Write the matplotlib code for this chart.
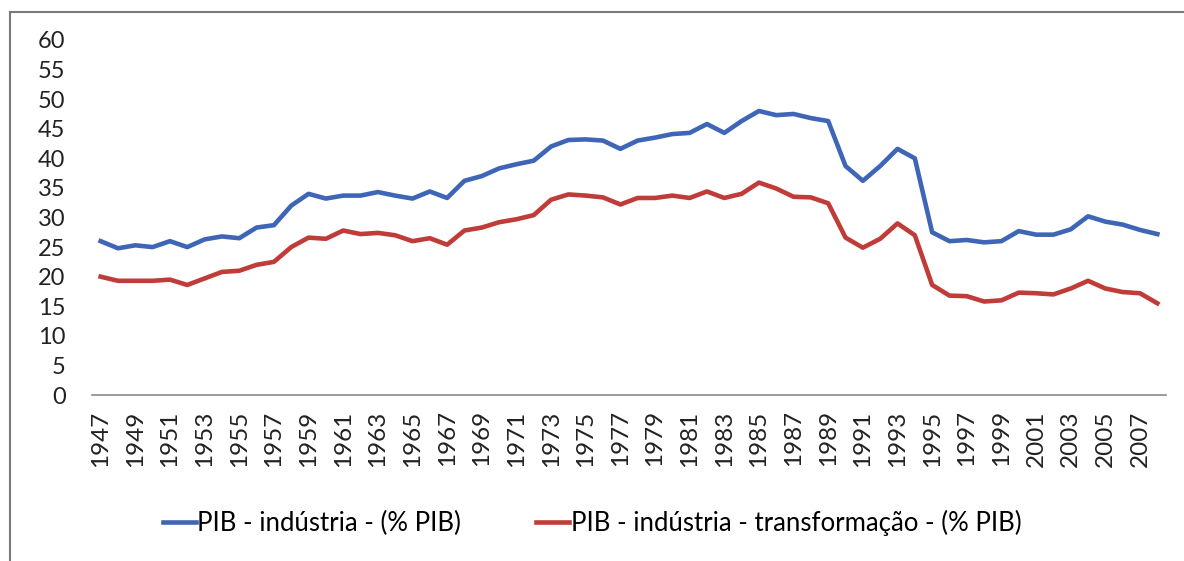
import numpy as np
import matplotlib
matplotlib.use("Agg")
import matplotlib.pyplot as plt
from matplotlib.patches import Rectangle

plt.rcParams['font.family'] = ['Lato', 'DejaVu Sans']

years = list(range(1947, 2009))

# PIB - industria (% PIB)
industria = [26.0, 24.8, 25.3, 25.0, 26.0, 25.0, 26.3, 26.8, 26.5, 28.3,
             28.7, 32.0, 34.0, 33.2, 33.7, 33.7, 34.3, 33.7, 33.2, 34.4,
             33.3, 36.2, 37.0, 38.3, 39.0, 39.6, 42.0, 43.1, 43.2, 43.0,
             41.6, 43.0, 43.5, 44.1, 44.3, 45.8, 44.3, 46.3, 48.0, 47.3,
             47.5, 46.8, 46.3, 38.7, 36.2, 38.7, 41.6, 40.0, 27.5, 26.0,
             26.2, 25.8, 26.0, 27.7, 27.1, 27.1, 28.0, 30.2, 29.3, 28.8,
             27.9, 27.2]

# PIB - industria - transformacao (% PIB)
transformacao = [20.0, 19.3, 19.3, 19.3, 19.5, 18.6, 19.7, 20.8, 21.0, 22.0,
                 22.5, 25.0, 26.6, 26.4, 27.8, 27.2, 27.4, 27.0, 26.0, 26.5,
                 25.4, 27.8, 28.3, 29.2, 29.7, 30.4, 33.0, 33.9, 33.7, 33.4,
                 32.2, 33.3, 33.3, 33.7, 33.3, 34.4, 33.3, 34.0, 35.9, 34.9,
                 33.5, 33.4, 32.4, 26.6, 24.9, 26.4, 29.0, 27.0, 18.6, 16.8,
                 16.7, 15.8, 16.0, 17.3, 17.2, 17.0, 18.0, 19.3, 18.0, 17.4,
                 17.2, 15.5]

W, H = 1184, 561
fig = plt.figure(figsize=(W / 100, H / 100), dpi=100)
ax = fig.add_axes([92 / W, 1 - 395 / H, (1166 - 92) / W, (395 - 40) / H])

x = np.arange(len(years))
ax.plot(x, industria, color='#3f66b6', lw=3.3, solid_joinstyle='round',
        label='PIB - indústria - (% PIB)')
ax.plot(x, transformacao, color='#c03c38', lw=3.3, solid_joinstyle='round',
        label='PIB - indústria - transformação - (% PIB)')

ax.set_xlim(-0.5, len(years) - 0.5)
ax.set_ylim(0, 60)
ax.set_yticks(range(0, 61, 5))
ax.set_xticks(x[::2])
ax.set_xticklabels([str(y) for y in years[::2]], rotation=90)

for s in ['top', 'right', 'left']:
    ax.spines[s].set_visible(False)
ax.spines['bottom'].set_color('#8a8a8a')
ax.spines['bottom'].set_linewidth(1.2)
ax.tick_params(axis='y', length=0, pad=19, labelsize=17, labelcolor='#222222')
ax.tick_params(axis='x', length=0, pad=11, labelsize=17.5, labelcolor='#222222')

fig.legend(loc='center', bbox_to_anchor=(0.5, 1 - 523 / H), ncol=2,
           frameon=False, fontsize=18.5, handlelength=1.3, handletextpad=0.05,
           columnspacing=2.9)

fig.patches.append(Rectangle((10 / W, -0.05), 1.0, 1 - 12 / H + 0.05,
                             transform=fig.transFigure, fill=False,
                             edgecolor='#7a7a7a', lw=1.5))

fig.savefig('out.png', dpi=100)
